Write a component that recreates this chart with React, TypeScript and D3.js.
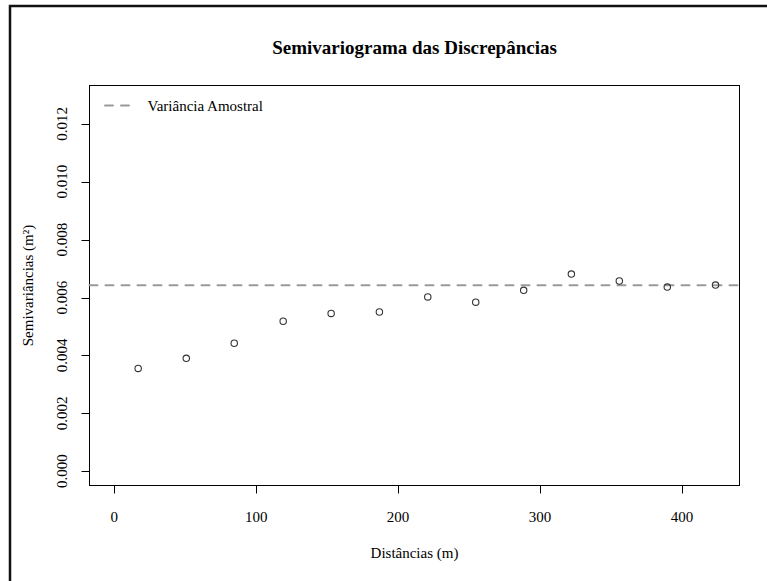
import React from "react";
import * as d3 from "d3";

const distances = [16.8, 50.7, 84.5, 119.0, 152.8, 186.8, 220.9, 254.7, 288.5, 322.1, 355.9, 389.7, 423.7];
const semivariances = [0.00355, 0.0039, 0.00442, 0.00518, 0.00545, 0.0055, 0.00602, 0.00584, 0.00625, 0.00681, 0.00657, 0.00636, 0.00643];
const sampleVariance = 0.00642;
const xTicks = [0, 100, 200, 300, 400];
const yTicks = [0, 0.002, 0.004, 0.006, 0.008, 0.01, 0.012];

const W = 767;
const H = 581;
const FONT = "'Liberation Serif', 'Times New Roman', serif";

export default function App() {
  const left = 89.5, right = 739.5, top = 85.5, bottom = 485.5;
  const x = d3.scaleLinear().domain([-17.5, 440.6]).range([left, right]);
  const y = d3.scaleLinear().domain([-0.000494, 0.013324]).range([bottom, top]);
  const fmt = d3.format(".3f");
  const cx = (left + right) / 2;
  const cy = (top + bottom) / 2;
  return (
    <svg width={W} height={H} style={{ position: "absolute", left: 0, top: 0, background: "#fff" }} fontFamily={FONT}>
      <rect x={0} y={0} width={W} height={H} fill="#fff" />
      <path d={`M10,${H + 10} L10,6 L${W + 10},6`} fill="none" stroke="#111" strokeWidth={2.5} />
      <text x={cx} y={54} textAnchor="middle" fontSize={19} fontWeight="bold" fill="#000">
        Semivariograma das Discrepâncias
      </text>
      <rect x={left} y={top} width={right - left} height={bottom - top} fill="none" stroke="#000" strokeWidth={1} />
      {xTicks.map((t) => (
        <g key={"xt" + t}>
          <line x1={Math.round(x(t)) + 0.5} x2={Math.round(x(t)) + 0.5} y1={bottom} y2={bottom + 8} stroke="#000" />
          <text x={x(t)} y={522} textAnchor="middle" fontSize={15} fill="#000">{t}</text>
        </g>
      ))}
      {yTicks.map((t) => (
        <g key={"yt" + t}>
          <line x1={left - 8} x2={left} y1={Math.round(y(t)) + 0.5} y2={Math.round(y(t)) + 0.5} stroke="#000" />
          <text transform={`translate(67,${y(t)}) rotate(-90)`} textAnchor="middle" fontSize={15} fill="#000">{fmt(t)}</text>
        </g>
      ))}
      <text x={cx} y={558} textAnchor="middle" fontSize={15} fill="#000">Distâncias (m)</text>
      <text transform={`translate(33,${cy}) rotate(-90)`} textAnchor="middle" fontSize={15} fill="#000">
        Semivariâncias (m²)
      </text>
      <line x1={left} x2={right} y1={y(sampleVariance)} y2={y(sampleVariance)} stroke="#9a9a9a" strokeWidth={2} strokeDasharray="8,8" strokeLinecap="round" />
      {distances.map((d, i) => (
        <circle key={"p" + i} cx={x(d)} cy={y(semivariances[i])} r={3.2} fill="none" stroke="#333" strokeWidth={1.1} />
      ))}
      <line x1={105} x2={129} y1={105.5} y2={105.5} stroke="#9a9a9a" strokeWidth={2} strokeDasharray="8,8" strokeLinecap="round" />
      <text x={147.5} y={111} fontSize={15} fill="#000">Variância Amostral</text>
    </svg>
  );
}
